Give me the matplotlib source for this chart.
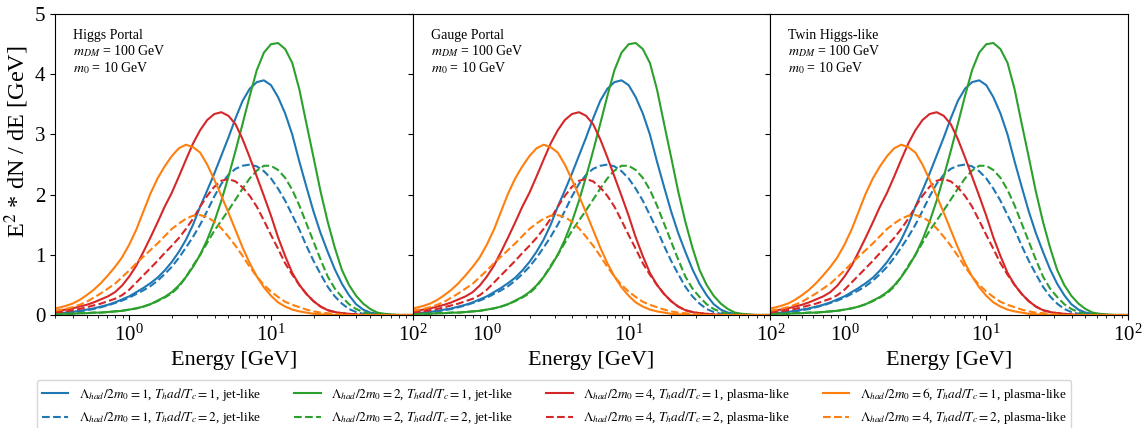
import matplotlib
matplotlib.use("Agg")
import matplotlib.pyplot as plt
import numpy as np

plt.rcParams["font.family"] = ["Liberation Serif", "DejaVu Serif"]
plt.rcParams["mathtext.fontset"] = "stix"

# log10(E / GeV) at which the curves were read
log_e = [-0.6, -0.55, -0.5, -0.45, -0.4, -0.35, -0.3, -0.25, -0.2, -0.15, -0.1, -0.05,
         0.0, 0.05, 0.1, 0.15, 0.2, 0.25, 0.3, 0.35, 0.4, 0.45, 0.5,
         0.55, 0.6, 0.65, 0.7, 0.75, 0.8, 0.85, 0.9, 0.95, 1.0,
         1.05, 1.1, 1.15, 1.2, 1.25, 1.3, 1.35, 1.4, 1.45, 1.5,
         1.55, 1.6, 1.65, 1.7, 1.75, 1.8, 1.85, 1.9, 1.95, 2.0]

# E^2 dN/dE [GeV] (tails are zero beyond the last value)
jet1_t1 = [0.02, 0.025, 0.03, 0.04, 0.05, 0.07, 0.09, 0.11, 0.14, 0.17, 0.21, 0.26,
           0.31, 0.38, 0.45, 0.53, 0.62, 0.74, 0.88, 1.05, 1.25, 1.50, 1.80,
           2.07, 2.35, 2.65, 2.95, 3.27, 3.56, 3.76, 3.87, 3.90, 3.82,
           3.62, 3.35, 3.00, 2.55, 2.13, 1.72, 1.36, 1.05, 0.76, 0.52,
           0.33, 0.18, 0.09, 0.04, 0.02, 0.01]
jet1_t2 = [0.02, 0.02, 0.03, 0.04, 0.05, 0.06, 0.08, 0.10, 0.13, 0.16, 0.20, 0.24,
           0.29, 0.35, 0.41, 0.48, 0.57, 0.68, 0.80, 0.95, 1.12, 1.30, 1.50,
           1.73, 1.97, 2.18, 2.33, 2.43, 2.48, 2.50, 2.47, 2.39, 2.27,
           2.10, 1.90, 1.66, 1.42, 1.15, 0.90, 0.68, 0.47, 0.31, 0.19,
           0.10, 0.05, 0.02, 0.01]
jet2_t1 = [0.01, 0.01, 0.02, 0.02, 0.02, 0.03, 0.03, 0.04, 0.04, 0.05, 0.06, 0.07,
           0.09, 0.11, 0.14, 0.18, 0.24, 0.30, 0.38, 0.49, 0.63, 0.80, 1.00,
           1.25, 1.55, 1.90, 2.30, 2.73, 3.18, 3.64, 4.07, 4.36, 4.50,
           4.52, 4.42, 4.19, 3.75, 3.18, 2.62, 2.05, 1.55, 1.12, 0.75,
           0.50, 0.32, 0.19, 0.10, 0.04, 0.02, 0.01]
jet2_t2 = [0.01, 0.01, 0.02, 0.02, 0.02, 0.03, 0.03, 0.04, 0.04, 0.05, 0.06, 0.07,
           0.09, 0.11, 0.14, 0.18, 0.23, 0.29, 0.36, 0.47, 0.63, 0.82, 1.00,
           1.20, 1.40, 1.57, 1.74, 1.92, 2.10, 2.27, 2.40, 2.48, 2.48,
           2.41, 2.28, 2.08, 1.82, 1.52, 1.22, 0.92, 0.64, 0.44, 0.30,
           0.18, 0.10, 0.05, 0.02, 0.01]
pl4_t1 = [0.05, 0.06, 0.07, 0.09, 0.11, 0.14, 0.17, 0.21, 0.26, 0.31, 0.38, 0.49,
          0.64, 0.82, 1.05, 1.29, 1.54, 1.80, 2.03, 2.30, 2.58, 2.85, 3.07,
          3.24, 3.34, 3.37, 3.31, 3.17, 2.92, 2.62, 2.30, 1.98, 1.65,
          1.29, 0.98, 0.70, 0.50, 0.35, 0.23, 0.14, 0.08, 0.05, 0.03,
          0.02, 0.01]
pl4_t2 = [0.03, 0.04, 0.05, 0.06, 0.08, 0.10, 0.13, 0.16, 0.19, 0.23, 0.27, 0.33,
          0.42, 0.54, 0.66, 0.78, 0.90, 1.03, 1.15, 1.28, 1.43, 1.60, 1.80,
          1.98, 2.13, 2.23, 2.26, 2.22, 2.12, 1.98, 1.80, 1.57, 1.33,
          1.10, 0.86, 0.67, 0.50, 0.35, 0.23, 0.14, 0.08, 0.05, 0.03,
          0.02, 0.01]
pl6_t1 = [0.08, 0.10, 0.12, 0.15, 0.19, 0.25, 0.33, 0.42, 0.53, 0.66, 0.80, 0.96,
          1.17, 1.42, 1.72, 2.02, 2.27, 2.47, 2.64, 2.77, 2.83, 2.79, 2.70,
          2.50, 2.25, 1.98, 1.70, 1.41, 1.12, 0.86, 0.64, 0.46, 0.32,
          0.21, 0.14, 0.09, 0.06, 0.04, 0.02, 0.01, 0.01]
pl4b_t2 = [0.05, 0.06, 0.08, 0.10, 0.13, 0.17, 0.22, 0.29, 0.36, 0.44, 0.52, 0.63,
           0.74, 0.86, 0.97, 1.08, 1.19, 1.31, 1.43, 1.52, 1.60, 1.65, 1.66,
           1.63, 1.55, 1.44, 1.30, 1.15, 0.98, 0.80, 0.64, 0.50, 0.39,
           0.30, 0.22, 0.17, 0.13, 0.09, 0.06, 0.04, 0.03, 0.02, 0.01]

series = [
    (jet1_t1, "tab:blue", "-", r"$\Lambda_{had}/2m_0 = 1$, $T_had/T_c = 1$, jet-like"),
    (jet1_t2, "tab:blue", "--", r"$\Lambda_{had}/2m_0 = 1$, $T_had/T_c = 2$, jet-like"),
    (jet2_t1, "tab:green", "-", r"$\Lambda_{had}/2m_0 = 2$, $T_had/T_c = 1$, jet-like"),
    (jet2_t2, "tab:green", "--", r"$\Lambda_{had}/2m_0 = 2$, $T_had/T_c = 2$, jet-like"),
    (pl4_t1, "tab:red", "-", r"$\Lambda_{had}/2m_0 = 4$, $T_had/T_c = 1$, plasma-like"),
    (pl4_t2, "tab:red", "--", r"$\Lambda_{had}/2m_0 = 4$, $T_had/T_c = 2$, plasma-like"),
    (pl6_t1, "tab:orange", "-", r"$\Lambda_{had}/2m_0 = 6$, $T_had/T_c = 1$, plasma-like"),
    (pl4b_t2, "tab:orange", "--", r"$\Lambda_{had}/2m_0 = 4$, $T_had/T_c = 2$, plasma-like"),
]

titles = ["Higgs Portal", "Gauge Portal", "Twin Higgs-like"]

energy = 10 ** np.array(log_e)

fig, axes = plt.subplots(1, 3, figsize=(11.48, 4.28), dpi=100, sharey=True)
fig.subplots_adjust(left=0.048, right=0.9826, top=0.967, bottom=0.264, wspace=0)

for ax, title in zip(axes, titles):
    for vals, col, ls, lab in series:
        y = np.zeros(len(log_e))
        y[:len(vals)] = vals
        ax.plot(energy, y, color=col, ls=ls, lw=1.5, label=lab)
    ax.set_xscale("log")
    ax.set_xlim(0.3, 100)
    ax.set_ylim(0, 5)
    ax.set_xlabel("Energy [GeV]", fontsize=16)
    ax.tick_params(labelsize=15)
    ax.text(0.05, 0.95, title + "\n" + r"$m_{DM}$ = 100 GeV" + "\n" + r"$m_0$ = 10 GeV",
            transform=ax.transAxes, va="top", ha="left", fontsize=10, linespacing=1.1)

axes[0].set_ylabel(r"E$^2$ * dN / dE [GeV]", fontsize=17.5)
axes[0].yaxis.set_label_coords(-0.068, 0.575)

handles, labels = axes[0].get_legend_handles_labels()
fig.legend(handles, labels, loc="center", bbox_to_anchor=(0.4826, 0.0514), ncol=4,
           fontsize=9.5, columnspacing=2.5)

fig.savefig("out.png", dpi=100)
